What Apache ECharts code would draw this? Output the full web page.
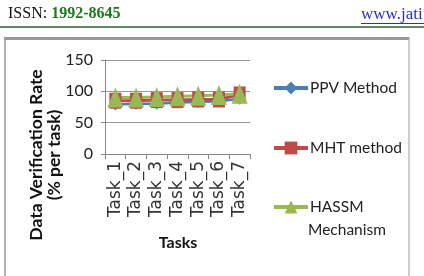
<!DOCTYPE html>
<html><head><meta charset="utf-8">
<script src="https://cdn.jsdelivr.net/npm/echarts@6/dist/echarts.min.js"></script>
<style>html,body{margin:0;padding:0;background:#fff}#c{width:424px;height:276px}</style>
</head><body><div id="c"></div>
<script>
const categories = ['Task_1','Task_2','Task_3','Task_4','Task_5','Task_6','Task_7'];
const ppv = [79, 80, 80, 82, 83, 84, 88];
const mht = [85, 85, 86, 86, 87, 87, 95];
const hassm = [90, 90, 91, 92, 93, 94, 96];
const yTicks = [0, 50, 100, 150];
const seriesNames = ['PPV Method', 'MHT method', 'HASSM Mechanism'];

const chart = echarts.init(document.getElementById('c'), null, {renderer:'canvas'});
const FONT = 'Lato';
function legendOf(name, top, label){
  return {
    data:[name], orient:'vertical', left:272, top:top, padding:0,
    itemWidth:34, itemHeight:16, itemGap:0,
    lineStyle:{width:4},
    textStyle:{fontFamily:FONT, fontSize:15.5, color:'#222', padding:[0,0,0,-3]},
    formatter: function(){return label;}
  };
}
chart.setOption({
  animation:false,
  grid:{left:105, right:174, top:60, bottom:122},
  xAxis:{
    type:'category', data:categories, boundaryGap:true,
    axisLine:{lineStyle:{color:'#888', width:1}},
    axisTick:{show:true, length:5, lineStyle:{color:'#888'}},
    axisLabel:{rotate:90, fontFamily:'DejaVu Sans', fontSize:17, color:'#333', margin:7, interval:0}
  },
  yAxis:{
    type:'value', min:0, max:150, interval:50,
    axisLine:{show:true, lineStyle:{color:'#888'}},
    axisTick:{show:true, length:4, lineStyle:{color:'#888'}},
    splitLine:{lineStyle:{color:'#999'}},
    axisLabel:{fontFamily:FONT, fontSize:16, color:'#222', margin:12,
      formatter:function(v){return yTicks.indexOf(v)>=0? String(v):'';}}
  },
  legend:[legendOf(seriesNames[0], 80, 'PPV Method'),
          legendOf(seriesNames[1], 140, 'MHT method'),
          legendOf(seriesNames[2], 199, 'HASSM')],
  series:[
    {name:seriesNames[0], type:'line', data:ppv, symbol:'diamond', symbolSize:[10,12],
      lineStyle:{color:'#4a7ebb', width:2.5}, itemStyle:{color:'#4a7ebb'}},
    {name:seriesNames[1], type:'line', data:mht, symbol:'rect', symbolSize:[12,16],
      lineStyle:{color:'#be4b48', width:3}, itemStyle:{color:'#be4b48'}},
    {name:seriesNames[2], type:'line', data:hassm, symbol:'triangle', symbolSize:[16,20],
      lineStyle:{color:'#98b954', width:3}, itemStyle:{color:'#98b954'}}
  ],
  graphic:[
    {type:'text', left:8, top:6, style:{text:'{a|ISSN: }{b|1992-8645}',
      rich:{a:{fontFamily:'Liberation Serif', fontSize:16, fill:'#111'},
            b:{fontFamily:'Liberation Serif', fontSize:16, fontWeight:'bold', fill:'#1e7a1e'}}}},
    {type:'text', left:361, top:6, style:{text:'www.jati', fontFamily:'Liberation Serif', fontSize:17, fill:'#2233cc'}},
    {type:'line', shape:{x1:361, y1:23.5, x2:424, y2:23.5}, style:{stroke:'#2233cc', lineWidth:1}},
    {type:'line', shape:{x1:0, y1:27, x2:424, y2:27}, style:{stroke:'#2e5e2e', lineWidth:1.5}},
    {type:'line', shape:{x1:4, y1:38.5, x2:409.5, y2:38.5}, style:{stroke:'#999', lineWidth:3}},
    {type:'line', shape:{x1:5, y1:38, x2:5, y2:276}, style:{stroke:'#999', lineWidth:1.5}},
    {type:'line', shape:{x1:409, y1:38, x2:409, y2:276}, style:{stroke:'#bbb', lineWidth:1.5}},
    {type:'text', x:36, y:155, rotation:Math.PI/2, style:{text:'Data Verification Rate',
      fontFamily:FONT, fontWeight:'bold', fontSize:17.5, fill:'#111', align:'center', verticalAlign:'middle'}},
    {type:'text', x:54, y:155, rotation:Math.PI/2, style:{text:'(% per task)',
      fontFamily:FONT, fontWeight:'bold', fontSize:17.5, fill:'#111', align:'center', verticalAlign:'middle'}},
    {type:'text', x:178, y:243, style:{text:'Tasks', fontFamily:FONT, fontWeight:'bold', fontSize:16,
      fill:'#111', align:'center', verticalAlign:'middle'}},
    {type:'text', x:308, y:230, style:{text:'Mechanism', fontFamily:FONT, fontSize:15.5,
      fill:'#222', align:'left', verticalAlign:'middle'}}
  ]
});
</script></body></html>
